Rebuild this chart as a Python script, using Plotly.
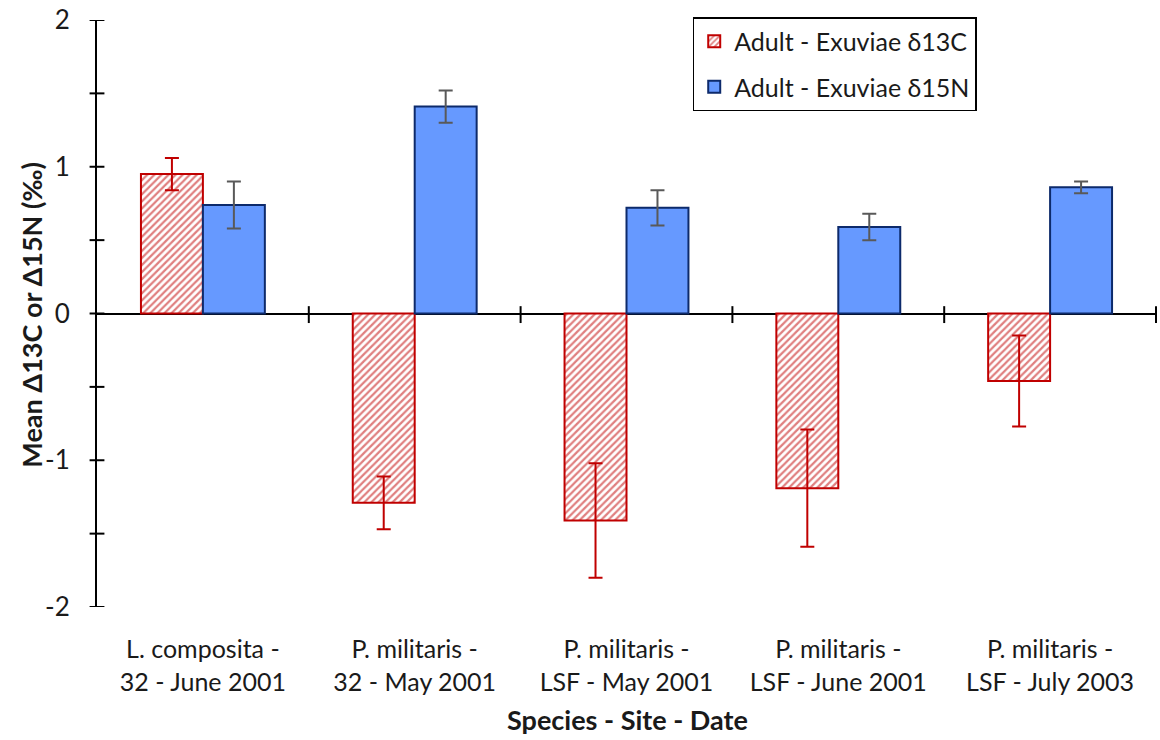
import plotly.graph_objects as go

categories = ["L. composita -<br>32 - June 2001", "P. militaris -<br>32 - May 2001",
              "P. militaris -<br>LSF - May 2001", "P. militaris -<br>LSF - June 2001",
              "P. militaris -<br>LSF - July 2003"]
d13c = [0.95, -1.29, -1.41, -1.19, -0.46]
d13c_err = [0.11, 0.18, 0.39, 0.40, 0.31]
d15n = [0.74, 1.41, 0.72, 0.59, 0.86]
d15n_err = [0.16, 0.11, 0.12, 0.09, 0.04]

FONT = "Lato"
FS = 25
RED = "#C00000"
fig = go.Figure()
fig.add_trace(go.Bar(
    x=categories, y=d13c, name="Adult - Exuviae δ13C", legendgroup="a",
    marker=dict(color="white", line=dict(color=RED, width=2),
                pattern=dict(shape="/", fgcolor=RED, bgcolor="white", size=5, solidity=0.45)),
    error_y=dict(type="data", array=d13c_err, color=RED, thickness=2, width=7),
))
fig.add_trace(go.Bar(
    x=categories, y=d15n, name="Adult - Exuviae δ15N", legendgroup="b",
    marker=dict(color="#6699FF", line=dict(color="#0D2A6B", width=2)),
    error_y=dict(type="data", array=d15n_err, color="#595959", thickness=2, width=7),
))

shapes = []
# x-axis boundary ticks crossing zero line
for i in range(len(categories)):
    xb = i + 0.5
    shapes.append(dict(type="line", xref="x", yref="y", x0=xb, x1=xb, y0=-0.065, y1=0.05,
                       line=dict(color="black", width=2)))
# y-axis crossing ticks
for v in [-2, -1.5, -1, -0.5, 0, 0.5, 1, 1.5, 2]:
    shapes.append(dict(type="line", xref="paper", yref="y", x0=-0.007, x1=0.007, y0=v, y1=v,
                       line=dict(color="black", width=2)))

annotations = [
    dict(text="<b>Species - Site - Date</b>", xref="paper", yref="paper", x=0.5, y=-0.1915,
         xanchor="center", yanchor="middle", showarrow=False, font=dict(size=27)),
    dict(text="<b>Mean Δ13C or Δ15N (‰)</b>", xref="paper", yref="paper", x=-0.0613, y=0.498,
         xanchor="center", yanchor="middle", textangle=-90, showarrow=False, font=dict(size=27)),
]

fig.update_layout(
    width=1160, height=740,
    margin=dict(l=97, r=3, t=17, b=133),
    paper_bgcolor="white", plot_bgcolor="white",
    barmode="group", bargap=0.415, bargroupgap=0,
    font=dict(family=FONT, size=FS, color="#1a1a1a"),
    shapes=shapes,
    annotations=annotations,
    legend=dict(x=0.562, y=1.005, xanchor="left", yanchor="top",
                bordercolor="black", borderwidth=1.5, bgcolor="white",
                font=dict(size=25), tracegroupgap=10, traceorder="grouped",
                itemwidth=30),
    xaxis=dict(showline=False, ticks="", showgrid=False, zeroline=False,
               tickfont=dict(size=FS), ticklabelstandoff=25),
    yaxis=dict(range=[-2, 2], tickvals=[-2, -1, 0, 1, 2], ticktext=["-2", "-1", "0", "1", "2"],
               showline=True, linecolor="black", linewidth=2, ticks="",
               showgrid=False, zeroline=True, zerolinecolor="black", zerolinewidth=2,
               tickfont=dict(size=26), ticklabelstandoff=20),
)

fig.write_html("out.html")
